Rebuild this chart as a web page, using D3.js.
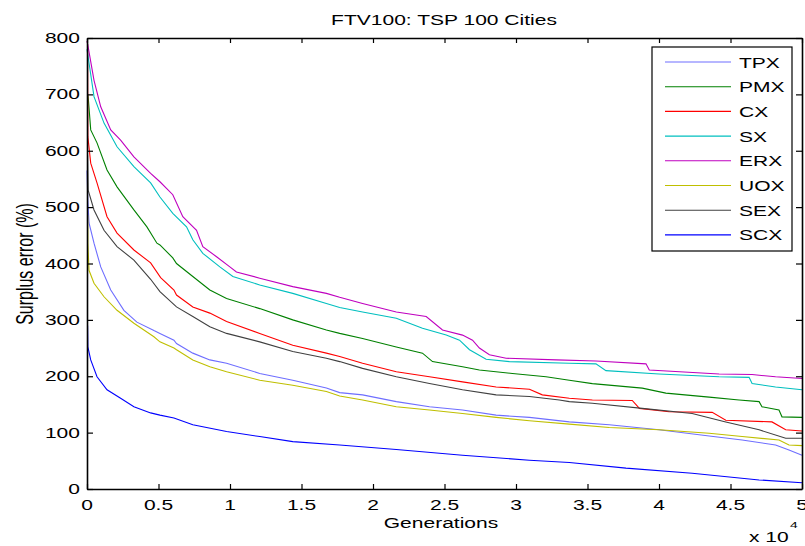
<!DOCTYPE html>
<html>
<head>
<meta charset="utf-8">
<script src="https://cdn.jsdelivr.net/npm/d3@7"></script>
<style>
body { margin: 0; background: #fff; }
svg { display: block; font-family: "Liberation Sans", Arial, sans-serif; }
</style>
</head>
<body>
<script>
// generations (x 10^4), surplus error (%)
var tpx = [[0,565],[0.006,512],[0.014,472],[0.049,436],[0.096,394],[0.166,353],[0.258,317],[0.349,296],[0.468,281],[0.51,276],[0.608,264],[0.626,258],[0.74,241],[0.859,229],[0.976,223],[1.208,205],[1.439,193],[1.674,179],[1.767,171],[1.927,167],[2.163,155],[2.395,146],[2.626,140],[2.861,131],[3.094,127],[3.373,119],[3.652,114],[4.0,105],[4.351,94],[4.581,87],[4.815,78],[4.909,69],[5,60]];
var pmx = [[0.004,700],[0.008,696],[0.026,637],[0.07,614],[0.14,566],[0.21,536],[0.328,495],[0.419,465],[0.489,436],[0.51,433],[0.6,410],[0.626,400],[0.74,377],[0.859,353],[0.976,338],[1.208,320],[1.439,300],[1.674,282],[1.767,276],[1.927,267],[2.163,252],[2.346,241],[2.416,226],[2.626,217],[2.744,211],[2.975,205],[3.21,199],[3.373,193],[3.534,187],[3.883,179],[4.048,170],[4.351,163],[4.56,158],[4.7,155],[4.72,146],[4.839,140],[4.86,128],[5,127]];
var cx = [[0.004,790],[0.006,625],[0.026,578],[0.07,543],[0.14,483],[0.21,454],[0.328,424],[0.445,401],[0.515,375],[0.608,353],[0.626,344],[0.74,323],[0.859,312],[0.976,297],[1.208,276],[1.439,255],[1.674,241],[1.767,235],[1.927,223],[2.163,208],[2.395,199],[2.626,190],[2.861,181],[3.094,177],[3.184,167],[3.373,161],[3.534,158],[3.813,157],[3.863,143],[4.071,137],[4.372,136],[4.467,122],[4.79,119],[4.886,105],[5,103]];
var sx = [[0,780],[0.004,773],[0.049,696],[0.119,649],[0.21,607],[0.328,572],[0.445,543],[0.51,518],[0.6,489],[0.696,465],[0.74,442],[0.81,418],[0.929,394],[1.02,377],[1.208,362],[1.439,347],[1.674,329],[1.767,322],[1.927,314],[2.163,303],[2.346,285],[2.512,273],[2.605,264],[2.675,247],[2.791,230],[2.954,226],[3.373,223],[3.559,222],[3.629,210],[4.0,204],[4.42,199],[4.63,198],[4.651,187],[4.815,181],[5,176]];
var erx = [[0,795],[0.004,790],[0.049,725],[0.096,678],[0.166,637],[0.235,619],[0.328,589],[0.445,560],[0.51,545],[0.6,522],[0.67,483],[0.766,459],[0.81,430],[0.906,412],[0.999,394],[1.045,385],[1.208,374],[1.439,359],[1.674,347],[1.767,340],[1.927,329],[2.163,314],[2.372,306],[2.486,282],[2.626,273],[2.696,264],[2.744,250],[2.814,238],[2.931,232],[3.28,229],[3.559,227],[3.909,222],[3.932,211],[4.42,204],[4.651,203],[4.815,199],[5,196]];
var uox = [[0.005,486],[0.006,436],[0.014,388],[0.049,365],[0.119,341],[0.21,317],[0.328,294],[0.468,270],[0.51,261],[0.608,250],[0.626,247],[0.74,229],[0.859,217],[0.976,208],[1.208,193],[1.439,184],[1.674,173],[1.767,165],[1.927,158],[2.163,146],[2.395,140],[2.626,134],[2.861,127],[3.094,121],[3.373,115],[3.652,109],[4.0,105],[4.351,99],[4.581,93],[4.839,87],[4.909,78],[5,77]];
var sex = [[0.004,592],[0.008,530],[0.049,495],[0.119,459],[0.21,430],[0.328,406],[0.445,372],[0.51,350],[0.626,323],[0.74,306],[0.859,288],[0.976,276],[1.208,261],[1.439,244],[1.674,232],[1.767,226],[1.927,214],[2.163,199],[2.395,187],[2.626,176],[2.861,167],[3.094,164],[3.303,158],[3.373,155],[3.534,152],[3.883,143],[4.232,134],[4.467,119],[4.7,105],[4.886,90],[5,90]];
var scx = [[0.004,290],[0.006,252],[0.026,229],[0.07,199],[0.14,176],[0.235,161],[0.328,146],[0.445,135],[0.51,131],[0.608,126],[0.74,114],[0.976,102],[1.208,93],[1.439,84],[1.767,78],[2.163,70],[2.626,60],[3.094,51],[3.373,47],[3.769,37],[4.232,28],[4.7,16],[5,11]];

var seriesNames = ["TPX", "PMX", "CX", "SX", "ERX", "UOX", "SEX", "SCX"];
var seriesData = [tpx, pmx, cx, sx, erx, uox, sex, scx];
var seriesColors = ["#6e6eff", "#008000", "#ff0000", "#00bfbf", "#bf00bf", "#bfbf00", "#404040", "#0000ff"];
var xTicks = [0, 0.5, 1, 1.5, 2, 2.5, 3, 3.5, 4, 4.5, 5];
var yTicks = [0, 100, 200, 300, 400, 500, 600, 700, 800];

var W = 805, H = 546,
margin = {top: 38, right: 3, bottom: 57, left: 87},
w = W - margin.left - margin.right,
h = H - margin.top - margin.bottom,
stretch = 1.45,
fs = 14.5;

var x = d3.scaleLinear().domain([0, 5]).range([0, w]),
y = d3.scaleLinear().domain([0, 800]).range([h, 0]);

var svg = d3.select("body").append("svg")
	.attr("width", W).attr("height", H);

// text is wider than tall in the original figure
function label(g, px, py, str, anchor, size) {
	return g.append("text")
		.attr("transform", "translate(" + px + "," + py + ") scale(" + stretch + ",1)")
		.attr("text-anchor", anchor)
		.attr("font-size", size || fs)
		.attr("fill", "#000")
		.text(str);
}

var chart = svg.append("g")
	.attr("transform", "translate(" + margin.left + "," + margin.top + ")");

var line = d3.line()
	.x(function(d) { return x(d[0]); })
	.y(function(d) { return y(d[1]); });

seriesData.forEach(function(d, i) {
	chart.append("path")
		.datum(d)
		.attr("d", line)
		.attr("fill", "none")
		.attr("stroke", seriesColors[i])
		.attr("stroke-width", 1.1);
});

// axes box with inward ticks
function styleAxis(g) {
	g.selectAll(".domain").attr("stroke", "#000").attr("stroke-width", 1.6);
	g.selectAll(".tick line").attr("stroke", "#000").attr("stroke-width", 1.2);
	g.selectAll(".tick text").remove();
}
chart.append("g").attr("transform", "translate(0," + h + ")")
	.call(d3.axisBottom(x).tickValues(xTicks).tickSizeInner(-5).tickSizeOuter(0)).call(styleAxis);
chart.append("g")
	.call(d3.axisTop(x).tickValues(xTicks).tickSizeInner(-5).tickSizeOuter(0)).call(styleAxis);
chart.append("g")
	.call(d3.axisLeft(y).tickValues(yTicks).tickSizeInner(-6).tickSizeOuter(0)).call(styleAxis);
chart.append("g").attr("transform", "translate(" + w + ",0)")
	.call(d3.axisRight(y).tickValues(yTicks).tickSizeInner(-6).tickSizeOuter(0)).call(styleAxis);

xTicks.forEach(function(t) {
	label(chart, x(t), h + 21, d3.format("~g")(t), "middle");
});
yTicks.forEach(function(t) {
	label(chart, -7, y(t) + 5, t, "end");
});

label(svg, 444, 25, "FTV100: TSP 100 Cities", "middle");
label(svg, 441, 528, "Generations", "middle");
label(svg, 749, 542, "x 10", "start");
label(svg, 790, 528, "4", "start", 9.5);

svg.append("text")
	.attr("transform", "translate(33,264) scale(" + stretch + ",1) rotate(-90)")
	.attr("text-anchor", "middle")
	.attr("font-size", 16)
	.text("Surplus error (%)");

// legend
var leg = svg.append("g");
leg.append("rect")
	.attr("x", 652).attr("y", 47)
	.attr("width", 140).attr("height", 204)
	.attr("fill", "#fff").attr("stroke", "#000").attr("stroke-width", 1.2);

seriesNames.forEach(function(n, i) {
	var ly = 62 + i * 24.7;
	leg.append("line")
		.attr("x1", 665).attr("x2", 731)
		.attr("y1", ly).attr("y2", ly)
		.attr("stroke", seriesColors[i]).attr("stroke-width", 1.1);
	label(leg, 739, ly + 5.5, n, "start");
});
</script>
</body>
</html>
